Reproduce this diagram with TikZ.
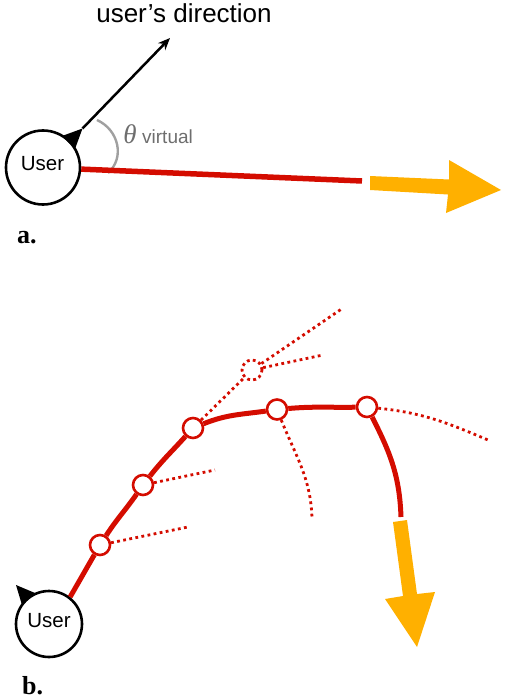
\documentclass[tikz,border=0pt]{standalone}
\usepackage{fontspec}
\newfontfamily\sansf{Liberation Sans}
\newfontfamily\serff{Liberation Serif}
\usetikzlibrary{arrows.meta}
\definecolor{redc}{RGB}{212,12,0}
\definecolor{orangec}{RGB}{255,176,0}
\definecolor{arcgray}{RGB}{160,160,160}
\definecolor{txtgray}{RGB}{110,110,110}
\begin{document}
\begin{tikzpicture}[x=1pt,y=1pt,
  usercirc/.style={circle,draw=black,line width=2.6pt,fill=white,inner sep=0pt},
  usertxt/.style={font=\sansf\fontsize{20.5}{24}\selectfont,inner sep=0pt,anchor=base},
  wp/.style={circle,draw=redc,line width=2.6pt,fill=white,minimum size=20pt,inner sep=0pt},
  wpdot/.style={circle,draw=redc,line width=2.8pt,dash pattern=on 2.8pt off 3.2pt,minimum size=20pt,inner sep=0pt},
  redpath/.style={draw=redc,line width=5pt},
  dotline/.style={draw=redc,line width=2.8pt,dash pattern=on 2.8pt off 3.4pt},
  orangefill/.style={fill=orangec},
  marker/.style={fill=black},
  lab/.style={font=\serff\bfseries\fontsize{26}{30}\selectfont,inner sep=0pt,anchor=base west}
]
\useasboundingbox (0,0) rectangle (505,-698);

% ---------- part a ----------
\node[usercirc,minimum size=74pt] (ua) at (43,-167.5) {};
\node[usertxt] (ualab) at (42.5,-170) {User};
\fill[marker] (62,-136) -- (82.5,-128.5) -- (75,-149) -- cycle;
\coordinate (tipa) at (82.5,-128.5);
\coordinate (dira) at (170,-38);
\draw[line width=2.5pt,-{Stealth[length=12pt,width=10pt]}] (tipa) -- (dira);
\node[font=\sansf\fontsize{26}{30}\selectfont,anchor=base,inner sep=0pt] (dirlab) at (184,-22.5) {user’s direction};
\draw[arcgray,line width=2.4pt] (97,-120) .. controls (119,-130) and (125,-158) .. (108,-173);
\node[anchor=base,inner sep=0pt,text=txtgray,font=\serff\itshape\fontsize{27}{30}\selectfont] (theta) at (130,-143) {θ};
\node[anchor=base west,inner sep=0pt,text=txtgray,font=\sansf\fontsize{19}{22}\selectfont] (virt) at (142,-143) {virtual};
\coordinate (reda) at (362,-181);
\draw[redc,line width=5.5pt] (ua) -- (reda);
\fill[orangefill] (370,-176) -- (449,-179.5) -- (449,-160) -- (501,-190) -- (446,-213) -- (448,-194.5) -- (370,-190) -- cycle;
\node[lab] (la) at (17,-243) {a.};

% ---------- part b ----------
\node[usercirc,minimum size=66pt] (ub) at (49,-624) {};
\node[usertxt] (ublab) at (49,-627.5) {User};
\fill[marker] (16,-585) -- (35,-593) -- (22,-605) -- cycle;

\node[wp] (n1) at (100,-545) {};
\node[wp] (n2) at (143,-485) {};
\node[wp] (n3) at (193,-428) {};
\node[wp] (n4) at (277,-409.5) {};
\node[wp] (n5) at (367,-407) {};
\node[wpdot] (dc) at (252,-370) {};
\coordinate (bend) at (401,-517);
\coordinate (d1) at (188,-527);
\coordinate (d2) at (215,-470);
\coordinate (d3) at (343,-308);
\coordinate (d4) at (323,-355);
\coordinate (d5) at (312,-518);
\coordinate (d6) at (488,-440);

\draw[redpath] (ub.52) to[out=60,in=240] (n1) to[out=57,in=235] (n2) to[out=52,in=228] (n3)
  to[out=22,in=188] (n4) to[out=5,in=181] (n5) to[out=-63,in=92] (bend);

\draw[dotline] (n1) -- (d1);
\draw[dotline] (n2) -- (d2);
\draw[dotline] (n3) -- (dc);
\draw[dotline] (dc) -- (d3);
\draw[dotline] (dc) -- (d4);
\draw[dotline] (n4) to[out=-68,in=92] (d5);
\draw[dotline] (n5) to[out=-6,in=157] (d6);

\fill[orangefill] (407,-520) -- (417,-594) -- (435,-592) -- (417,-647) -- (385,-599) -- (403,-596) -- (393,-522) -- cycle;
\node[lab] (lb) at (22,-694) {b.};
\end{tikzpicture}
\end{document}
